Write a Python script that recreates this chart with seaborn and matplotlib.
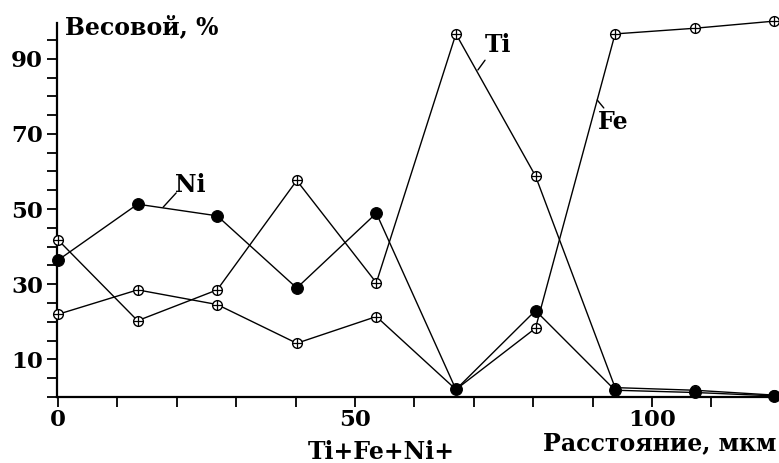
import matplotlib
matplotlib.use("Agg")
import matplotlib.pyplot as plt
import seaborn as sns
import pandas as pd
import numpy as np
from matplotlib.ticker import FixedLocator, NullFormatter

# ---- data ----
distance = [0, 13.4, 26.8, 40.2, 53.6, 67.0, 80.4, 93.8, 107.2, 120.6]
ti = [41.8, 20.3, 28.5, 57.6, 30.4, 96.6, 58.8, 2.5, 1.8, 0.5]
fe = [22.0, 28.5, 24.6, 14.3, 21.4, 2.0, 18.3, 96.6, 98.1, 100.0]
ni = [36.4, 51.3, 48.2, 29.0, 48.9, 2.0, 23.0, 1.8, 1.2, 0.3]
y_major = [10, 30, 50, 70, 90]
y_minor = [0, 5, 15, 20, 25, 35, 40, 45, 55, 60, 65, 75, 80, 85, 95]
x_major = [0, 50, 100]
x_minor = [10, 20, 30, 40, 60, 70, 80, 90, 110]

df = pd.DataFrame({"x": distance, "Ti": ti, "Fe": fe, "Ni": ni})

sns.set_theme(style="white")
plt.rcParams["font.family"] = ["DejaVu Serif"]
plt.rcParams["font.weight"] = "bold"

fig = plt.figure(figsize=(7.79, 4.63), dpi=100)
ax = fig.add_axes([57/779, 1-397/463, 1-57/779, (397-23)/463])

for col in ["Ti", "Fe"]:
    sns.lineplot(data=df, x="x", y=col, ax=ax, color="black", lw=1.0,
                 marker="o", ms=7, mfc="white", mec="black", mew=1.0,
                 clip_on=False, zorder=3)
    sns.scatterplot(data=df, x="x", y=col, ax=ax, marker="+", s=45,
                    color="black", linewidth=0.9, clip_on=False, zorder=4)
sns.lineplot(data=df, x="x", y="Ni", ax=ax, color="black", lw=1.0,
             marker="o", ms=8.5, mfc="black", mec="black",
             clip_on=False, zorder=5)

ax.set_xlim(-0.17, 121.4)
ax.set_ylim(0, 99.5)
ax.set_xlabel("")
ax.set_ylabel("")
for s in ["top", "right"]:
    ax.spines[s].set_visible(False)
for s in ["left", "bottom"]:
    ax.spines[s].set_linewidth(1.6)
    ax.spines[s].set_color("black")

ax.yaxis.set_major_locator(FixedLocator(y_major))
ax.yaxis.set_minor_locator(FixedLocator(y_minor))
ax.xaxis.set_major_locator(FixedLocator(x_major))
ax.xaxis.set_minor_locator(FixedLocator(x_minor))
ax.yaxis.set_minor_formatter(NullFormatter())
ax.xaxis.set_minor_formatter(NullFormatter())
ax.tick_params(axis="both", which="both", direction="out", length=7.5,
               width=1.3, color="black", left=True, bottom=True)
ax.tick_params(axis="both", which="major", labelsize=16.5, pad=2.5,
               labelcolor="black")
ax.tick_params(axis="x", which="major", pad=1.5)
for lab in ax.get_xticklabels() + ax.get_yticklabels():
    lab.set_fontweight("bold")

tfont = dict(fontsize=17, fontweight="bold", color="black")
fig.text(65/779, 1-27/463, "Весовой, %", ha="left", va="center", **tfont)
fig.text(776/779, 1-443.5/463, "Расстояние, мкм", ha="right", va="center", **tfont)
fig.text(381/779, 1-452/463, "Ti+Fe+Ni+", ha="center", va="center", **tfont)

# series labels with leader lines
ax.text(22.2, 56.4, "Ni", ha="center", va="center", **tfont)
ax.plot([19.9, 17.7], [54.3, 50.5], color="black", lw=1.0)
ax.text(74.1, 93.6, "Ti", ha="center", va="center", **tfont)
ax.plot([71.9, 70.7], [89.6, 87.0], color="black", lw=1.0)
ax.text(93.4, 73.1, "Fe", ha="center", va="center", **tfont)
ax.plot([90.8, 91.9], [79.0, 76.9], color="black", lw=1.0)

fig.savefig("out.png", dpi=100)
